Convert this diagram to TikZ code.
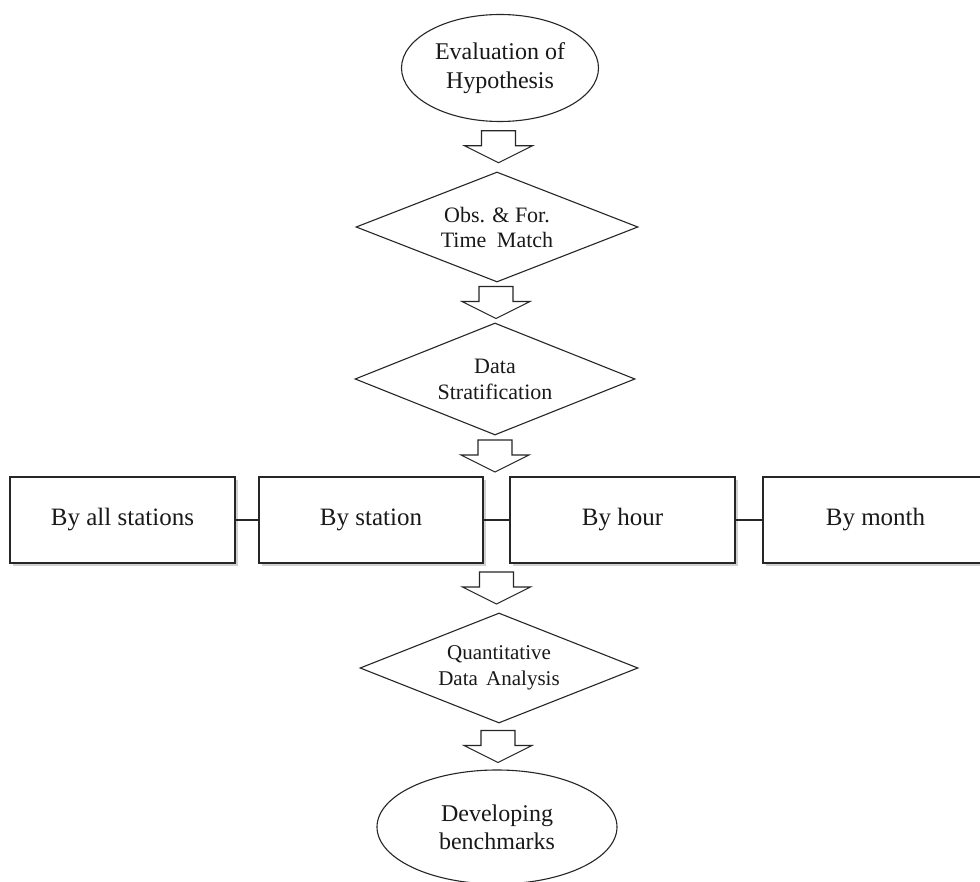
\documentclass[tikz,border=0pt]{standalone}
\usepackage{fontspec}
\setmainfont{Liberation Serif}
\usetikzlibrary{shapes.geometric,shadows,calc}
\begin{document}
\begin{tikzpicture}[x=1pt,y=-1pt,
  base/.style={draw=black!85,line width=1.1pt,fill=white,inner sep=0pt,align=center,text=black!90},
  ell/.style={base,ellipse},
  dia/.style={base,diamond,aspect=2.55},
  stratbox/.style={base,rectangle,minimum width=225pt,minimum height=86pt,
    drop shadow={shadow xshift=2.5pt,shadow yshift=-2.5pt,opacity=0.18,fill=black}},
  link/.style={draw=black!85,line width=1.3pt},
  blockarrow/.pic={\draw[draw=black!85,line width=1.1pt,fill=white,line join=miter]
     (-17,-16) -- (17,-16) -- (17,-1) -- (34,-1) -- (0,16) -- (-34,-1) -- (-17,-1) -- cycle;}
]
\useasboundingbox (0,0) rectangle (980,882);
\clip (0,0) rectangle (980,882);
\fill[white] (0,0) rectangle (980,882);

\node[ell,minimum width=197pt,minimum height=107pt,font=\fontsize{24}{29}\selectfont] (e1) at (500,68) {Evaluation of\\Hypothesis};
\node[dia,minimum width=282pt,minimum height=110pt,font=\fontsize{22}{25}\selectfont] (d1) at (497,227) {Obs. \& For.\\Time\hspace{5pt} Match};
\node[dia,minimum width=280pt,minimum height=112pt,font=\fontsize{22}{26}\selectfont] (d2) at (495,379) {Data\\Stratification};

\node[stratbox,font=\fontsize{25}{30}\selectfont] (b1) at (122.5,520) {By all stations};
\node[stratbox,minimum width=224pt,font=\fontsize{25}{30}\selectfont] (b2) at (371,520) {By station};
\node[stratbox,font=\fontsize{25}{30}\selectfont] (b3) at (622.5,520) {By hour};
\node[stratbox,font=\fontsize{25}{30}\selectfont] (b4) at (875.5,520) {By month};

\node[dia,minimum width=278pt,minimum height=110pt,font=\fontsize{21}{26}\selectfont] (d3) at (499,668) {Quantitative\\Data\hspace{3pt} Analysis};
\node[ell,minimum width=240pt,minimum height=114pt,font=\fontsize{24}{28}\selectfont] (e2) at (497,827) {Developing\\benchmarks};

\draw[link] (b1.east) -- (b2.west);
\draw[link] (b2.east) -- (b3.west);
\draw[link] (b3.east) -- (b4.west);

\coordinate (a1) at ($(e1.south)!0.5!(d1.north)$);
\coordinate (a2) at ($(d1.south)!0.5!(d2.north)$);
\coordinate (a3) at ($(d2.south)!0.5!(d2.south |- b2.north)$);
\coordinate (bgap) at ($(b2.south east)!0.5!(b3.south west)$);
\coordinate (a4) at ($(bgap)!0.5!(bgap |- d3.north)$);
\coordinate (a5) at ($(d3.south)!0.5!(e2.north)$);

\pic at (a1) {blockarrow};
\pic at (a2) {blockarrow};
\pic at (a3) {blockarrow};
\pic at (a4) {blockarrow};
\pic at (a5) {blockarrow};
\end{tikzpicture}
\end{document}
